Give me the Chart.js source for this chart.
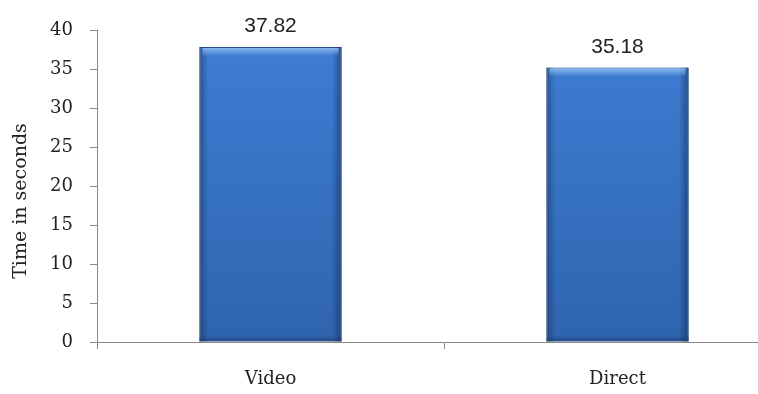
<!DOCTYPE html>
<html>
<head>
<meta charset="utf-8">
<script src="https://cdn.jsdelivr.net/npm/chart.js@4"></script>
<style>
  html, body { margin: 0; padding: 0; background: #fff; overflow: hidden; }
  #wrap { width: 800px; height: 394px; }
</style>
</head>
<body>
<div id="wrap"><canvas id="timeChart" width="800" height="394"></canvas></div>
<script>
const categories = ["Video", "Direct"];
const timeValues = [37.82, 35.18];
const yMin = 0;
const yMax = 40;
const yStep = 5;
const yTitle = "Time in seconds";

const axisColor = "#878787";
const textColor = "#222";

// vertical blue fill for the bars
function barFill(context) {
  const area = context.chart.chartArea;
  if (!area) return "#3a75c8";
  const g = context.chart.ctx.createLinearGradient(0, area.top, 0, area.bottom);
  g.addColorStop(0, "#3f7fd6");
  g.addColorStop(1, "#2f64ae");
  return g;
}

// darker sides and a light top edge on each bar
const bevelPlugin = {
  id: "bevel",
  afterDatasetsDraw(chart) {
    const ctx = chart.ctx;
    chart.getDatasetMeta(0).data.forEach(bar => {
      const { x, y, base, width } = bar.getProps(["x", "y", "base", "width"], true);
      const left = x - width / 2;
      const right = x + width / 2;
      ctx.save();
      let g = ctx.createLinearGradient(left, 0, left + 9, 0);
      g.addColorStop(0, "rgba(20,45,90,0.5)");
      g.addColorStop(1, "rgba(20,45,90,0)");
      ctx.fillStyle = g;
      ctx.fillRect(left, y, 9, base - y);
      g = ctx.createLinearGradient(right, 0, right - 10, 0);
      g.addColorStop(0, "rgba(20,45,90,0.6)");
      g.addColorStop(1, "rgba(20,45,90,0)");
      ctx.fillStyle = g;
      ctx.fillRect(right - 10, y, 10, base - y);
      g = ctx.createLinearGradient(0, y, 0, y + 9);
      g.addColorStop(0, "rgba(150,192,245,0.95)");
      g.addColorStop(1, "rgba(150,192,245,0)");
      ctx.fillStyle = g;
      ctx.fillRect(left + 3, y + 1, width - 6, 9);
      g = ctx.createLinearGradient(0, base, 0, base - 6);
      g.addColorStop(0, "rgba(20,45,90,0.5)");
      g.addColorStop(1, "rgba(20,45,90,0)");
      ctx.fillStyle = g;
      ctx.fillRect(left, base - 6, width, 6);
      ctx.restore();
    });
  }
};

// value printed above each bar
const valueLabels = {
  id: "valueLabels",
  afterDatasetsDraw(chart) {
    const ctx = chart.ctx;
    ctx.save();
    ctx.font = "21px 'Liberation Sans', Arial, sans-serif";
    ctx.fillStyle = textColor;
    ctx.textAlign = "center";
    ctx.textBaseline = "alphabetic";
    chart.getDatasetMeta(0).data.forEach((bar, i) => {
      ctx.fillText(timeValues[i].toFixed(2), bar.x, bar.y - 15);
    });
    ctx.restore();
  }
};

// rotated y axis title
const yTitlePlugin = {
  id: "yTitleText",
  afterDraw(chart) {
    const ctx = chart.ctx;
    ctx.save();
    ctx.translate(21, 201);
    ctx.rotate(-Math.PI / 2);
    ctx.font = "19px 'DejaVu Serif', serif";
    ctx.fillStyle = textColor;
    ctx.textAlign = "center";
    ctx.textBaseline = "middle";
    ctx.fillText(yTitle, 0, 0);
    ctx.restore();
  }
};

new Chart(document.getElementById("timeChart"), {
  type: "bar",
  data: {
    labels: categories,
    datasets: [{
      data: timeValues,
      backgroundColor: barFill,
      borderColor: "#29508a",
      borderWidth: 1,
      barPercentage: 0.41,
      categoryPercentage: 1
    }]
  },
  options: {
    responsive: false,
    animation: false,
    layout: { padding: { top: 30, right: 9, left: 0, bottom: 0 } },
    plugins: {
      legend: { display: false },
      tooltip: { enabled: false }
    },
    scales: {
      x: {
        afterFit: s => { s.height = 52; },
        grid: { drawOnChartArea: false, offset: true, tickLength: 7, color: axisColor },
        border: { color: axisColor },
        ticks: {
          color: textColor,
          padding: 20,
          font: { family: "'DejaVu Serif', serif", size: 18 }
        }
      },
      y: {
        min: yMin,
        max: yMax,
        afterFit: s => { s.width = 97; },
        grid: { drawOnChartArea: false, tickLength: 7, color: axisColor },
        border: { color: axisColor },
        ticks: {
          stepSize: yStep,
          color: textColor,
          padding: 17,
          font: { family: "'DejaVu Serif', serif", size: 18 }
        }
      }
    }
  },
  plugins: [bevelPlugin, valueLabels, yTitlePlugin]
});
</script>
</body>
</html>
